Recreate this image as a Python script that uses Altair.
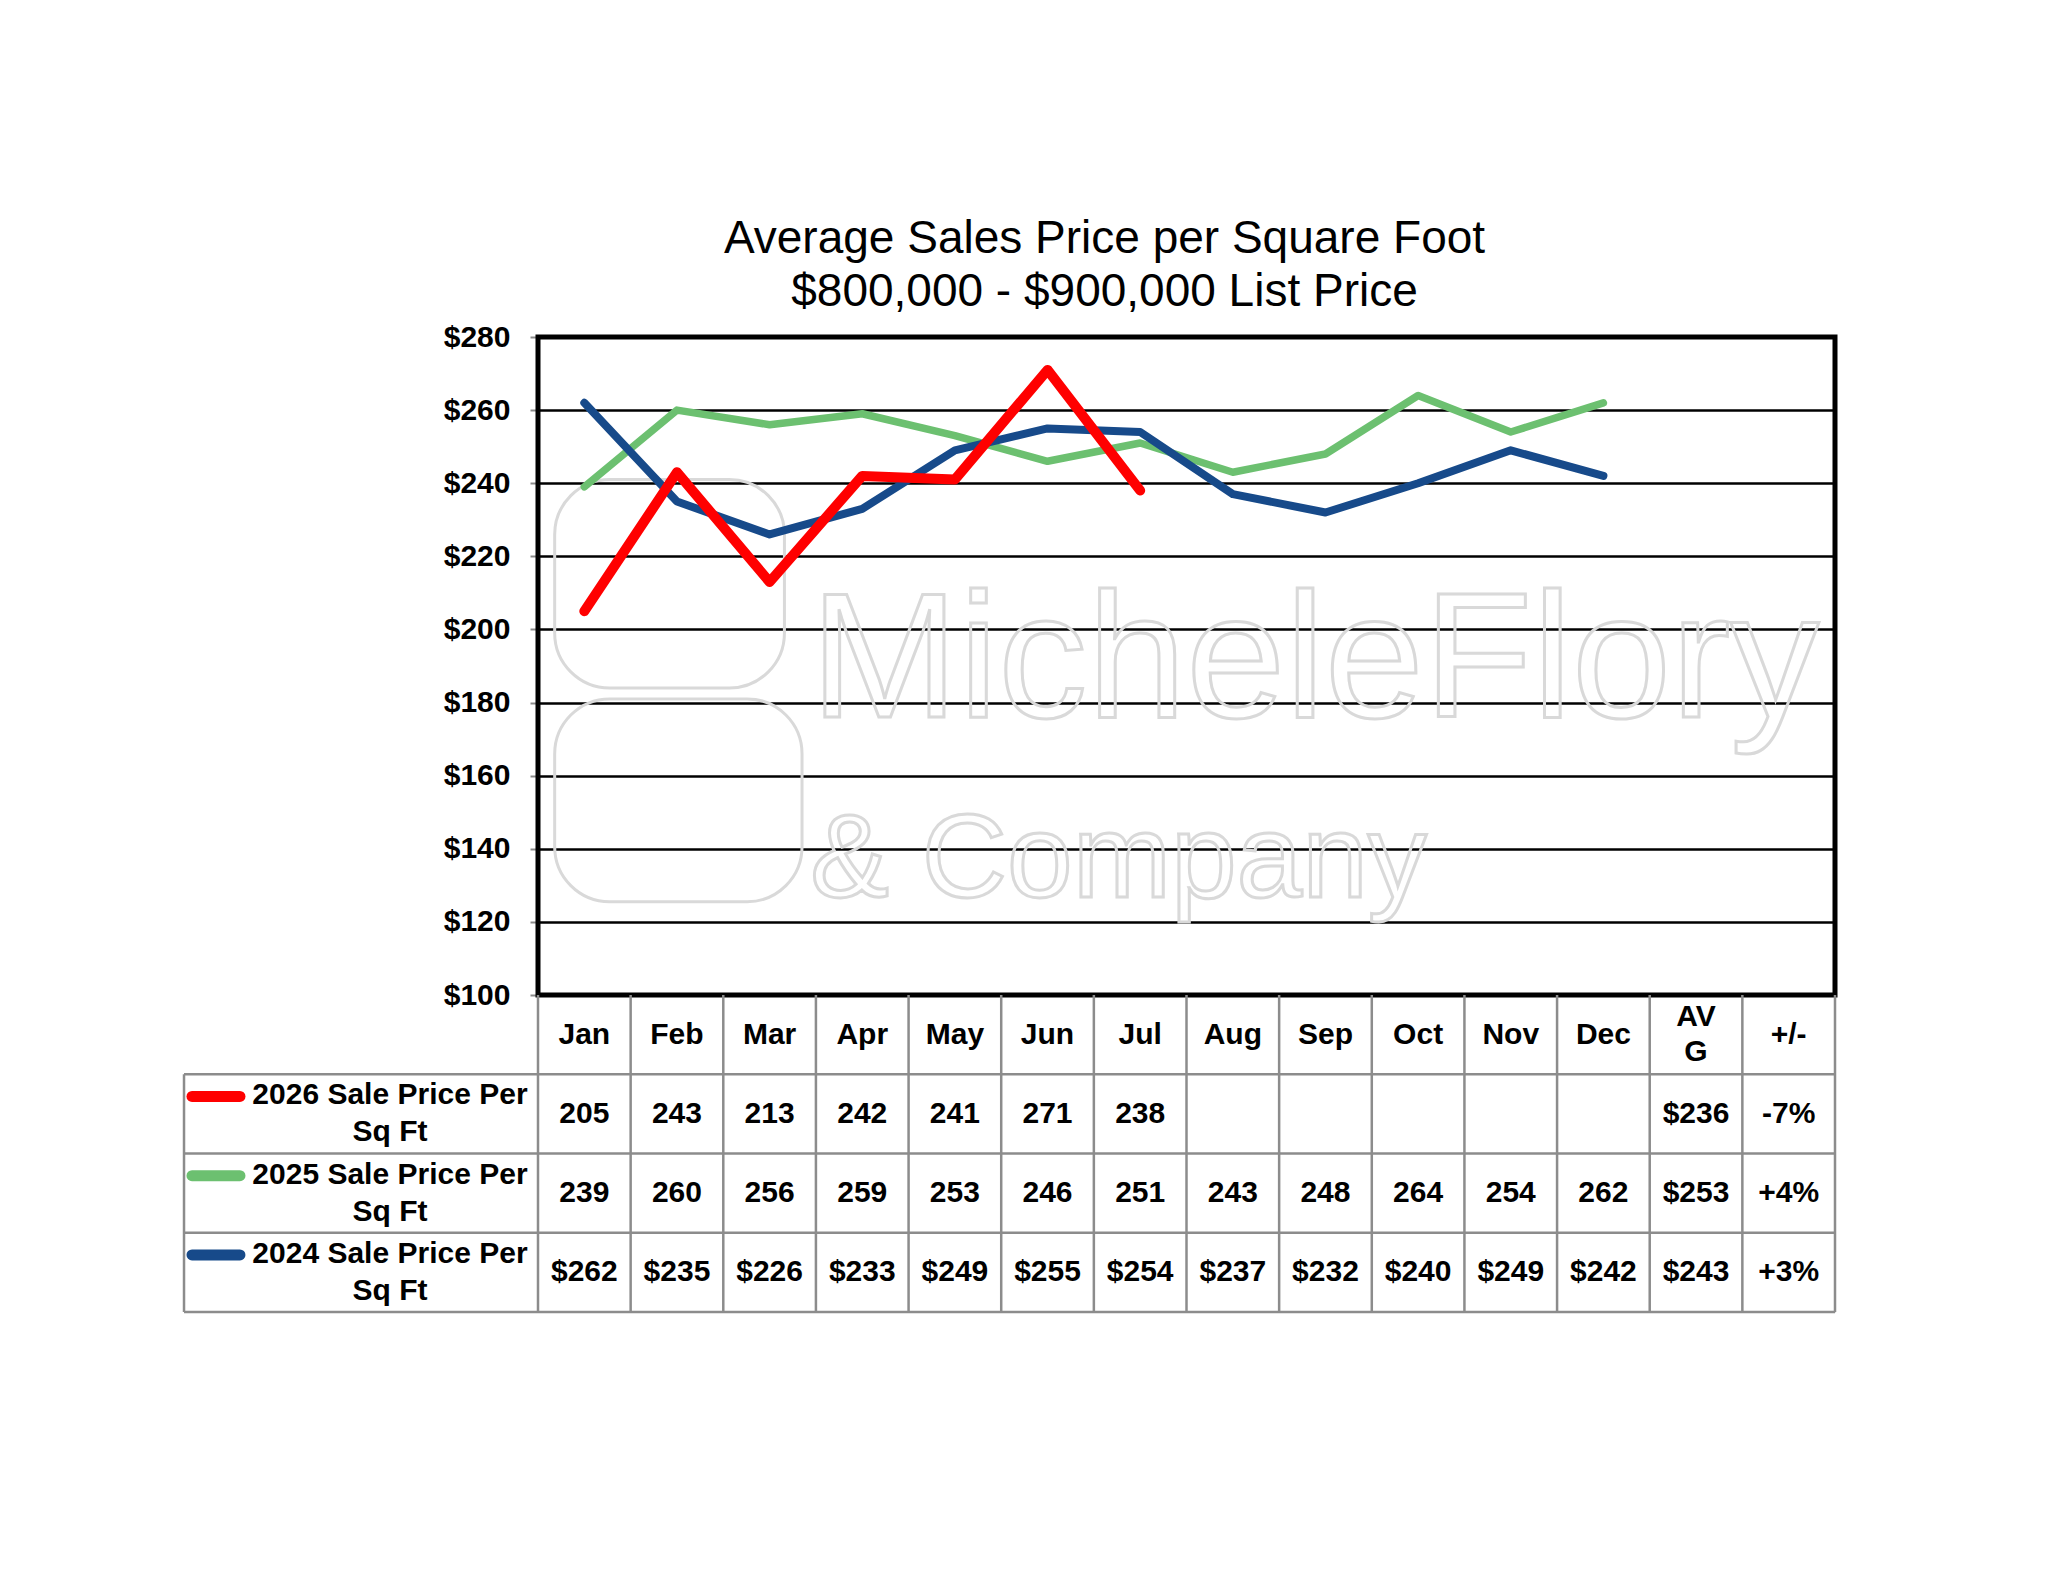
import altair as alt
import pandas as pd

# ---------------- data ----------------
months = ["Jan", "Feb", "Mar", "Apr", "May", "Jun", "Jul", "Aug", "Sep", "Oct", "Nov", "Dec"]
extra_headers = ["AV\nG", "+/-"]
series_keys = ["2026", "2025", "2024"]
series_labels = ["2026 Sale Price Per\nSq Ft", "2025 Sale Price Per\nSq Ft", "2024 Sale Price Per\nSq Ft"]
series_colors = ["#FF0000", "#6CC070", "#174A8A"]
v2026 = [205, 243, 213, 242, 241, 271, 238]
v2025 = [239, 260, 256, 259, 253, 246, 251, 243, 248, 264, 254, 262]
v2024 = [262, 235, 226, 233, 249, 255, 254, 237, 232, 240, 249, 242]
avg_labels = ["$236", "$253", "$243"]
change_labels = ["-7%", "+4%", "+3%"]
value_prefix = ["", "", "$"]
y_ticks = [100, 120, 140, 160, 180, 200, 220, 240, 260, 280]
title_lines = ["Average Sales Price per Square Foot", "$800,000 - $900,000 List Price"]
watermark_words = ["MicheleFlory", "& Company"]

series_values = [v2026, v2025, v2024]

# ---------------- layout constants ----------------
W = 1297            # plot width (14 columns)
PLOT_H = 658        # line-plot height
TABLE_H = 317       # table height (header + 3 rows)
H = PLOT_H + TABLE_H
NCOL = 14
LABEL_X0 = -3.821   # left edge of the row-label column, in column units
FONT = "Liberation Sans"
WM_GRAY = "#d9d9d9"

xscale = alt.Scale(domain=[0, NCOL], range=[0, W])
yscale = alt.Scale(domain=[100, 280], range=[PLOT_H, 0])
tscale = alt.Scale(domain=[0, 4], range=[PLOT_H, H])

yaxis = alt.Axis(values=y_ticks, labelExpr="'$' + datum.value", title=None,
                 grid=True, gridColor="#000000", gridWidth=2.5,
                 domain=True, domainColor="#8a8a8a", domainWidth=2,
                 ticks=True, tickColor="#8a8a8a", tickWidth=2, tickSize=8,
                 labelFont=FONT, labelFontSize=30, labelFontWeight="bold",
                 labelColor="#000000", labelPadding=20)


def X(f="x"):
    return alt.X(f"{f}:Q", scale=xscale, axis=None)


def YV():
    return alt.Y("value:Q", scale=yscale, axis=yaxis)


def YT():
    return alt.Y("row:Q", scale=tscale, axis=None)


# ---------------- line plot layer ----------------
wm_df = pd.DataFrame({
    "word": watermark_words,
    "x": [2.94, 2.94],
    "value": [176.1, 126.8],
    "size": [178, 118],
})
watermark = alt.Chart(wm_df).mark_text(
    align="left", baseline="alphabetic", font=FONT,
    fillOpacity=0, stroke=WM_GRAY, strokeWidth=3,
).encode(x=X(), y=YV(), text="word:N", size=alt.Size("size:Q", scale=None, legend=None))

logo_df = pd.DataFrame({
    "x": [0.18, 0.18], "x2": [2.66, 2.85],
    "value": [241.0, 181.0], "value2": [184.0, 125.5],
})
logo = alt.Chart(logo_df).mark_rect(
    fillOpacity=0, stroke=WM_GRAY, strokeWidth=3, cornerRadius=55
).encode(x=X(), x2="x2:Q", y=YV(), y2="value2:Q")

line_layers = []
draw_order = [1, 2, 0]  # green bottom, blue, red top
stroke_w = {0: 10, 1: 7.5, 2: 8}
for si in draw_order:
    vals = series_values[si]
    df = pd.DataFrame({"x": [i + 0.5 for i in range(len(vals))], "value": vals})
    line_layers.append(
        alt.Chart(df).mark_line(color=series_colors[si], strokeWidth=stroke_w[si],
                                strokeCap="round", strokeJoin="round")
        .encode(x=X(), y=YV())
    )

border_df = pd.DataFrame({"x": [0], "x2": [NCOL], "value": [100], "value2": [280]})
border = alt.Chart(border_df).mark_rect(fillOpacity=0, stroke="#000000", strokeWidth=5).encode(
    x=X(), x2="x2:Q", y=YV(), y2="value2:Q"
)

plot_layer = alt.layer(logo, watermark, *line_layers, border)

# ---------------- table layer ----------------
rules = []
for r in [1, 2, 3, 4]:
    rules.append({"x": LABEL_X0, "x2": NCOL, "row": r, "row2": r})
for c in range(NCOL + 1):
    rules.append({"x": c, "x2": c, "row": 0, "row2": 4})
rules.append({"x": LABEL_X0, "x2": LABEL_X0, "row": 1, "row2": 4})
rules_df = pd.DataFrame(rules)
table_rules = alt.Chart(rules_df).mark_rule(color="#8c8c8c", strokeWidth=2.5).encode(
    x=X(), x2="x2:Q", y=YT(), y2="row2:Q"
)

cells = []
for i, m in enumerate(months):
    cells.append({"x": i + 0.5, "row": 0.5, "t": m})
for si in range(3):
    for i, v in enumerate(series_values[si]):
        cells.append({"x": i + 0.5, "row": si + 1.5, "t": f"{value_prefix[si]}{v}"})
    cells.append({"x": 12.5, "row": si + 1.5, "t": avg_labels[si]})
    cells.append({"x": 13.5, "row": si + 1.5, "t": change_labels[si]})
cells_df = pd.DataFrame(cells)
cell_text = alt.Chart(cells_df).mark_text(
    font=FONT, fontSize=30, fontWeight="bold", color="#000000", align="center", baseline="middle"
).encode(x=X(), y=YT(), text="t:N")

# multi-line cells: y is the first line's centre
hdr_df = pd.DataFrame({"x": [12.5, 13.5], "row": [0.278, 0.5], "t": extra_headers})
hdr_text = alt.Chart(hdr_df).mark_text(
    font=FONT, fontSize=30, fontWeight="bold", color="#000000", align="center",
    baseline="middle", lineBreak="\n", lineHeight=35
).encode(x=X(), y=YT(), text="t:N")

lab_df = pd.DataFrame({"x": [-1.598] * 3, "row": [1.266, 2.266, 3.266], "t": series_labels})
lab_text = alt.Chart(lab_df).mark_text(
    font=FONT, fontSize=30, fontWeight="bold", color="#000000", align="center",
    baseline="middle", lineBreak="\n", lineHeight=37
).encode(x=X(), y=YT(), text="t:N")

key_df = pd.DataFrame({
    "x": [-3.735] * 3, "x2": [-3.217] * 3,
    "row": [1.28, 2.28, 3.28], "row2": [1.28, 2.28, 3.28],
    "s": series_keys,
})
keys = alt.Chart(key_df).mark_rule(strokeWidth=11, strokeCap="round").encode(
    x=X(), x2="x2:Q", y=YT(), y2="row2:Q",
    color=alt.Color("s:N", scale=alt.Scale(domain=series_keys, range=series_colors), legend=None),
)

table_layer = alt.layer(table_rules, cell_text, hdr_text, lab_text, keys)

chart = (
    alt.layer(plot_layer, table_layer)
    .resolve_scale(y="independent")
    .properties(
        width=W, height=H,
        title=alt.TitleParams(title_lines, font=FONT, fontSize=46, fontWeight="normal",
                              color="#000000", anchor="middle", frame="group", dx=-82,
                              lineHeight=53, offset=6),
        autosize=alt.AutoSizeParams(type="none"),
        padding={"left": 530, "top": 329, "right": 150, "bottom": 250},
    )
    .configure_view(stroke=None)
    .configure(background="#ffffff")
)

chart.save("out.html", embed_options={"renderer": "svg", "actions": False})
